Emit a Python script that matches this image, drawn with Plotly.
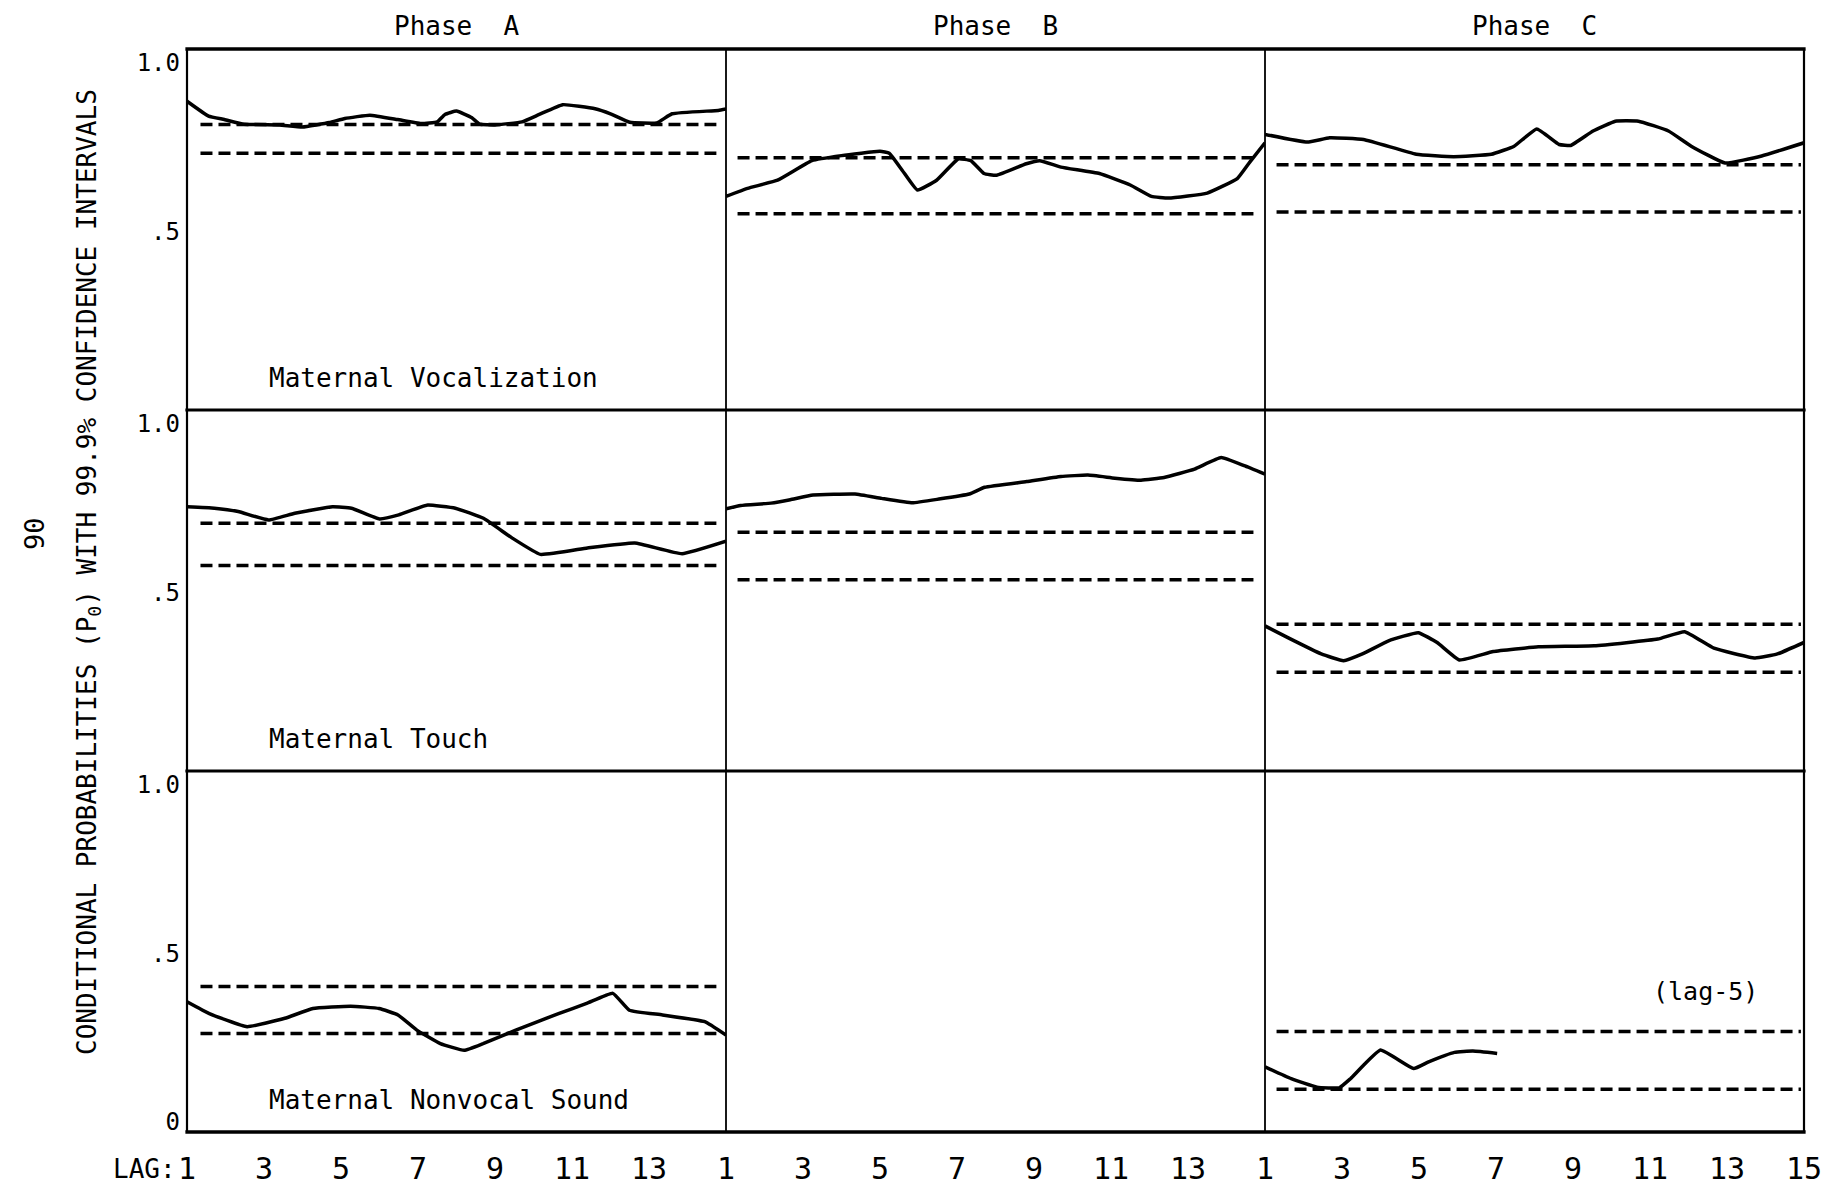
import plotly.graph_objects as go
from plotly.subplots import make_subplots

# ---------------- data ----------------
phases = ["Phase  A", "Phase  B", "Phase  C"]
behaviors = ["Maternal Vocalization", "Maternal Touch", "Maternal Nonvocal Sound"]
x_ticks_AB = [1, 3, 5, 7, 9, 11, 13]
x_ticks_C = [1, 3, 5, 7, 9, 11, 13, 15]

# Row 1: Maternal Vocalization
voc_A_lag = [1, 1.56, 1.97, 2.48, 3.4, 4.0, 4.7, 5.1, 5.75, 6.47, 7.08, 7.5, 7.7, 8.0, 8.4, 8.6,
             9.0, 9.7, 10.15, 10.76, 11.6, 12.0, 12.5, 13.2, 13.6, 14.8, 15]
voc_A_p = [0.885, 0.841, 0.831, 0.817, 0.815, 0.809, 0.822, 0.834, 0.844, 0.831, 0.819, 0.824, 0.846,
           0.856, 0.836, 0.817, 0.815, 0.824, 0.846, 0.875, 0.863, 0.848, 0.823, 0.821, 0.848, 0.858, 0.862]
voc_A_ci = [0.816, 0.731]

voc_B_lag = [1, 1.56, 2.34, 3.23, 4.0, 5.0, 5.24, 5.58, 5.97, 6.47, 7.03, 7.36, 7.7, 8.03, 8.8, 9.15,
             9.7, 10.7, 11.5, 12.05, 12.5, 13.5, 14.28, 14.6, 15]
voc_B_p = [0.603, 0.627, 0.651, 0.709, 0.724, 0.737, 0.731, 0.680, 0.622, 0.651, 0.714, 0.709, 0.671,
           0.666, 0.700, 0.709, 0.690, 0.671, 0.637, 0.603, 0.598, 0.613, 0.656, 0.704, 0.762]
voc_B_ci = [0.718, 0.552]

voc_C_lag = [1, 2.1, 2.68, 3.56, 4.93, 5.9, 6.88, 7.47, 8.06, 8.64, 8.94, 9.52, 10.1, 10.7, 11.48,
             12.07, 12.95, 13.9, 15]
voc_C_p = [0.787, 0.764, 0.777, 0.772, 0.728, 0.721, 0.728, 0.752, 0.803, 0.757, 0.754, 0.797, 0.826,
           0.826, 0.797, 0.752, 0.702, 0.723, 0.762]
voc_C_ci = [0.697, 0.557]

# Row 2: Maternal Touch
touch_A_lag = [1, 1.71, 2.33, 3.12, 3.8, 4.78, 5.27, 6.0, 6.5, 7.23, 7.97, 8.7, 9.44, 10.18, 11.4,
               12.63, 13.86, 15]
touch_A_p = [0.753, 0.749, 0.739, 0.714, 0.734, 0.753, 0.749, 0.717, 0.729, 0.758, 0.749, 0.719, 0.661,
             0.612, 0.631, 0.646, 0.614, 0.651]
touch_A_ci = [0.704, 0.579]

touch_B_lag = [1, 1.38, 2.17, 2.67, 3.26, 4.35, 5.04, 5.84, 6.53, 7.32, 7.72, 8.81, 9.7, 10.4, 11.1,
               11.78, 12.38, 13.17, 13.86, 14.46, 15]
touch_B_p = [0.747, 0.757, 0.764, 0.774, 0.788, 0.791, 0.778, 0.765, 0.776, 0.791, 0.811, 0.828, 0.843,
             0.847, 0.838, 0.832, 0.840, 0.865, 0.899, 0.875, 0.850]
touch_B_ci = [0.678, 0.537]

touch_C_lag = [1, 1.58, 2.46, 3.04, 3.53, 4.21, 4.98, 5.47, 6.05, 6.93, 8.1, 9.55, 11.2, 11.9, 12.66,
               13.73, 14.31, 15]
touch_C_p = [0.400, 0.366, 0.317, 0.297, 0.317, 0.356, 0.380, 0.351, 0.299, 0.324, 0.338, 0.341, 0.361,
             0.383, 0.334, 0.305, 0.317, 0.351]
touch_C_ci = [0.405, 0.263]

# Row 3: Maternal Nonvocal Sound (no Phase B data)
sound_A_lag = [1, 1.58, 2.56, 3.54, 4.27, 5.25, 5.99, 6.48, 6.97, 7.58, 8.2, 8.69, 9.54, 10.65, 11.38,
               12.06, 12.49, 13.35, 14.45, 15]
sound_A_p = [0.356, 0.321, 0.282, 0.307, 0.336, 0.343, 0.336, 0.317, 0.272, 0.232, 0.212, 0.232, 0.272,
             0.321, 0.351, 0.381, 0.331, 0.317, 0.297, 0.257]
sound_A_ci = [0.401, 0.262]

sound_B_lag = []
sound_B_p = []
sound_B_ci = []

sound_C_lag = [1, 1.68, 2.35, 2.93, 3.22, 4.0, 4.86, 5.25, 5.92, 6.4, 7.03]
sound_C_p = [0.163, 0.128, 0.103, 0.101, 0.128, 0.213, 0.158, 0.178, 0.206, 0.210, 0.203]
sound_C_ci = [0.268, 0.097]

panels = {
    (1, 1): (voc_A_lag, voc_A_p, voc_A_ci),
    (1, 2): (voc_B_lag, voc_B_p, voc_B_ci),
    (1, 3): (voc_C_lag, voc_C_p, voc_C_ci),
    (2, 1): (touch_A_lag, touch_A_p, touch_A_ci),
    (2, 2): (touch_B_lag, touch_B_p, touch_B_ci),
    (2, 3): (touch_C_lag, touch_C_p, touch_C_ci),
    (3, 1): (sound_A_lag, sound_A_p, sound_A_ci),
    (3, 2): (sound_B_lag, sound_B_p, sound_B_ci),
    (3, 3): (sound_C_lag, sound_C_p, sound_C_ci),
}

# ---------------- figure ----------------
FONT = "DejaVu Sans Mono"
ci_extent = {1: (1.35, 14.75), 2: (1.3, 14.7), 3: (1.3, 14.92)}

fig = make_subplots(rows=3, cols=3, horizontal_spacing=0, vertical_spacing=0)

for (r, c), (lag, p, ci) in panels.items():
    x0, x1 = ci_extent[c]
    for level in ci:
        fig.add_trace(go.Scatter(x=[x0, x1], y=[level, level], mode="lines",
                                 line=dict(color="black", width=3.5, dash="12px,6px"),
                                 showlegend=False, hoverinfo="skip"), row=r, col=c)
    fig.add_trace(go.Scatter(x=lag, y=p, mode="lines",
                             line=dict(color="black", width=3.5, shape="spline", smoothing=0.35),
                             showlegend=False), row=r, col=c)

for r in range(1, 4):
    for c in range(1, 4):
        xticks = x_ticks_C if c == 3 else x_ticks_AB
        fig.update_xaxes(row=r, col=c, range=[1, 15], showgrid=False, zeroline=False,
                         showline=False, ticks="",
                         showticklabels=(r == 3),
                         tickvals=xticks, ticktext=[str(v) for v in xticks],
                         tickfont=dict(family=FONT, size=30, color="black"),
                         ticklabelstandoff=16)
        yv = [0, 0.5, 1.0] if r == 3 else [0.5, 1.0]
        yt = ["0", ".5", "1.0"] if r == 3 else [".5", "1.0"]
        fig.update_yaxes(row=r, col=c, range=[-0.03, 1.04], showgrid=False, zeroline=False,
                         showline=False, ticks="", showticklabels=(c == 1),
                         tickvals=yv, ticktext=yt,
                         tickfont=dict(family=FONT, size=24, color="black"),
                         ticklabelstandoff=6)

# panel frame
shapes = []
for yy, w in [(0, 3.5), (1 / 3, 3), (2 / 3, 3), (1, 3.5)]:
    shapes.append(dict(type="line", xref="paper", yref="paper", x0=-0.001, x1=1.001, y0=yy, y1=yy,
                       line=dict(color="black", width=w)))
for xx, w in [(0, 2.2), (1 / 3, 1.8), (2 / 3, 1.8), (1, 2.2)]:
    shapes.append(dict(type="line", xref="paper", yref="paper", x0=xx, x1=xx, y0=0, y1=1,
                       line=dict(color="black", width=w)))

annotations = []
# Phase titles
for c, name in enumerate(phases, start=1):
    annotations.append(dict(text=name, xref=f"x{c} domain" if c > 1 else "x domain", yref="paper",
                            x=0.5, y=1, yanchor="bottom", yshift=6, showarrow=False,
                            font=dict(family=FONT, size=26, color="black")))
# Behaviour labels
for r, name in enumerate(behaviors, start=1):
    idx = (r - 1) * 3 + 1
    annotations.append(dict(text=name, xref=f"x{idx}" if idx > 1 else "x",
                            yref=f"y{idx}" if idx > 1 else "y",
                            x=3.07, y=0.065, xanchor="left", yanchor="middle", showarrow=False,
                            font=dict(family=FONT, size=26, color="black")))
# (lag-5)
annotations.append(dict(text="(lag-5)", xref="x9", yref="y9", x=12.45, y=0.386, showarrow=False,
                        font=dict(family=FONT, size=25, color="black")))
# LAG:
annotations.append(dict(text="LAG:", xref="paper", yref="paper", x=0, y=0, xanchor="right",
                        yanchor="middle", xshift=-9, yshift=-37, showarrow=False,
                        font=dict(family=FONT, size=26, color="black")))
# Y axis title
annotations.append(dict(text="CONDITIONAL PROBABILITIES (P<sub>0</sub>) WITH 99.9% CONFIDENCE INTERVALS",
                        xref="paper", yref="paper", x=0, y=0.5, xshift=-117, yshift=18,
                        textangle=-90, showarrow=False,
                        font=dict(family=FONT, size=26, color="black")))
# page number
annotations.append(dict(text="90", xref="paper", yref="paper", x=0, y=0.5, xshift=-170, yshift=57,
                        textangle=-90, showarrow=False,
                        font=dict(family=FONT, size=27, color="black")))

fig.update_layout(width=1834, height=1198, autosize=False,
                  margin=dict(l=187, r=23, t=49, b=62),
                  paper_bgcolor="white", plot_bgcolor="white",
                  showlegend=False, annotations=annotations, shapes=shapes,
                  font=dict(family=FONT, color="black"))

fig.write_html("out.html")
